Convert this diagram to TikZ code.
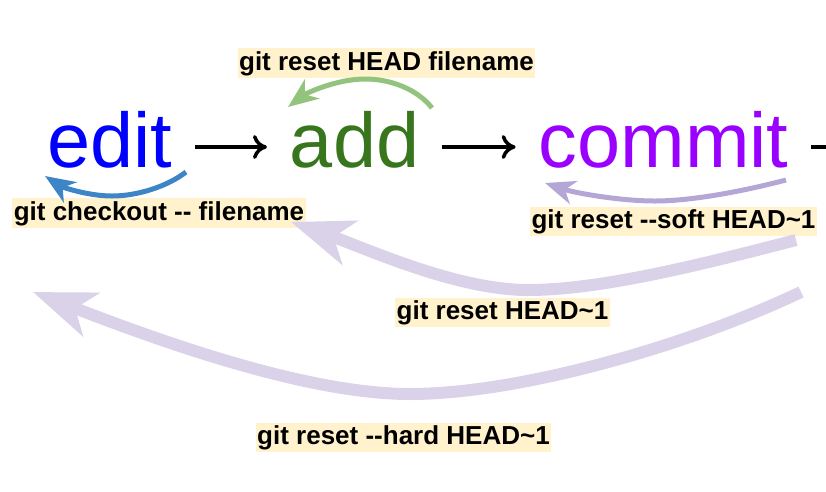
\documentclass[tikz,border=0pt]{standalone}
\usepackage{fontspec}
\setmainfont{Liberation Sans}[Ligatures=TeXOff]
\usetikzlibrary{arrows.meta}

\definecolor{editblue}{HTML}{0000FF}
\definecolor{addgreen}{HTML}{38761D}
\definecolor{commitpurple}{HTML}{9900FF}
\definecolor{labelbg}{HTML}{FFF2CC}
\definecolor{checkoutblue}{HTML}{3D85C6}
\definecolor{unstagegreen}{HTML}{93C47D}
\definecolor{softpurple}{HTML}{B4A7D6}
\definecolor{resetlilac}{HTML}{D9D2E9}

\begin{document}
\begin{tikzpicture}[x=1pt, y=-1pt,
    word/.style={anchor=base, inner sep=0pt, outer xsep=23pt,
      font=\fontsize{77.5}{80}\selectfont},
    cmd/.style={fill=labelbg, inner xsep=1.5pt, inner ysep=2.2pt,
      text height=19.8pt, text depth=5.7pt,
      font=\fontsize{26}{28}\selectfont\bfseries},
    flow/.style={line width=3.5pt, -{Computer Modern Rightarrow[length=14pt,width=24pt]}},
    back/.style={line width=5pt, -{Stealth[length=30pt,width=24pt,inset=9pt]}},
    bigback/.style={line width=12pt, draw=resetlilac, -{Stealth[length=62pt,width=46pt,inset=17pt]}}]
  \useasboundingbox (0,0) rectangle (826,491);
  \clip (0,0) rectangle (826,491);

  \node[word, text=editblue] (edit) at (109.5,167) {edit};
  \node[word, text=addgreen] (add) at (354.6,167) {add};
  \node[word, text=commitpurple] (commit) at (663.5,167) {commit};
  \coordinate (next) at (900,147);

  \draw[flow] ([yshift=20pt]edit.base east) -- ([yshift=20pt]add.base west);
  \draw[flow] ([yshift=20pt]add.base east) -- ([yshift=20pt]commit.base west);
  \draw[flow] ([yshift=20pt]commit.base east) -- (next);

  \node[cmd] (unstage) at (386.5,63) {git reset HEAD filename};
  \node[cmd] (checkout) at (159,213) {git checkout -- filename};
  \node[cmd] (soft) at (673.5,221.5) {git reset --soft HEAD\textasciitilde1};
  \node[cmd] (mixed) at (502.5,312.5) {git reset HEAD\textasciitilde1};
  \node[cmd] (hard) at (403.5,437.5) {git reset --hard HEAD\textasciitilde1};

  % small curved arrows
  \coordinate (gs) at (432,108);
  \coordinate (gm) at (365,79);
  \coordinate (ge) at (288,107);
  \draw[back, draw=unstagegreen] (gs) .. controls (418,90) and (392,79) .. (gm)
    .. controls (338,79) and (308,92) .. (ge);

  \coordinate (bs) at (186,172);
  \coordinate (bm) at (112,196);
  \coordinate (be) at (45,176);
  \draw[back, draw=checkoutblue] (bs) .. controls (168,186) and (138,196) .. (bm)
    .. controls (88,196) and (62,187) .. (be);

  \coordinate (ps) at (786,180);
  \coordinate (pm) at (655,201);
  \coordinate (pe) at (545,183);
  \draw[back, draw=softpurple] (ps) .. controls (740,192) and (690,201) .. (pm)
    .. controls (620,201) and (575,193) .. (pe);

  % big ones
  \coordinate (rs) at (796,240);
  \coordinate (rm) at (528,290);
  \coordinate (re) at (291,222);
  \draw[bigback] (rs) .. controls (700,265) and (600,290) .. (rm)
    .. controls (456,290) and (365,248) .. (re);

  \coordinate (hs) at (801,292);
  \coordinate (hm) at (410,394);
  \coordinate (he) at (33,292);
  \draw[bigback] (hs) .. controls (690,345) and (520,394) .. (hm)
    .. controls (310,394) and (170,345) .. (he);
\end{tikzpicture}
\end{document}
